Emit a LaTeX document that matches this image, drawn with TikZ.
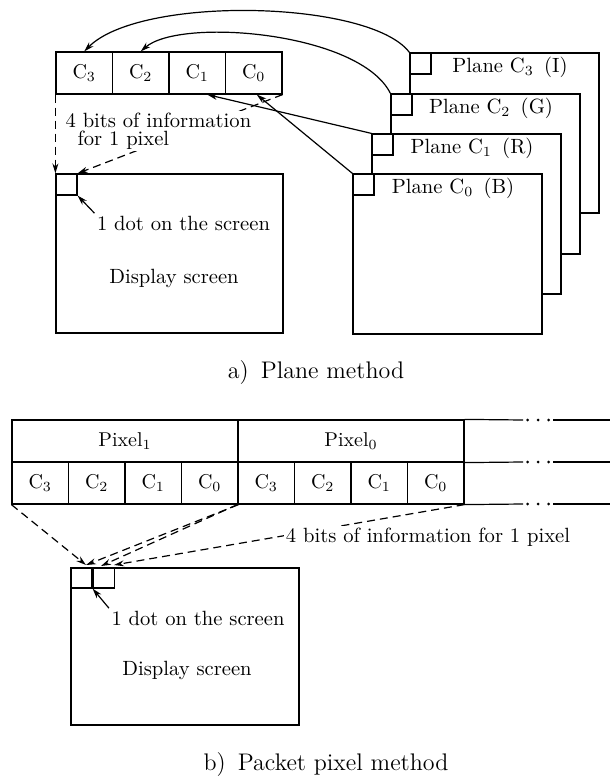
\documentclass[tikz,border=0pt]{standalone}
\usetikzlibrary{arrows.meta}
\begin{document}
\begin{tikzpicture}[x=0.5pt,y=-0.5pt,
  line width=0.6pt,
  txt/.style={font=\fontsize{10.3}{12.4}\selectfont, inner sep=1pt},
  cell/.style={draw, minimum width=28.25pt, minimum height=21pt, inner sep=0pt, font=\fontsize{10}{12}\selectfont},
  hcell/.style={cell, minimum width=113pt},
  sq/.style={draw, minimum width=10.5pt, minimum height=10.5pt, inner sep=0pt},
  bsq/.style={draw, minimum width=10.5pt, minimum height=10pt, inner sep=0pt},
  plane/.style={draw, fill=white, minimum width=94.5pt, minimum height=80pt, inner sep=0pt},
  screen/.style={draw, inner sep=0pt},
  arr/.style={-{Stealth[length=5pt,width=3pt]}},
  dsh/.style={dash pattern=on 4pt off 2.5pt},
  captxt/.style={font=\fontsize{12}{14}\selectfont}
]
\useasboundingbox (0,0) rectangle (610,779);

% ---------------- a) Plane method ----------------
% register
\node[cell] (r3) at (84.25,73) {C$_3$};
\node[cell] (r2) at (140.75,73) {C$_2$};
\node[cell] (r1) at (197.25,73) {C$_1$};
\node[cell] (r0) at (253.75,73) {C$_0$};

% planes (back to front)
\node[plane] (pl3) at (504.5,133) {};
\node[sq, anchor=north west] (pd3) at (pl3.north west) {};
\node[txt] (lb3) at (510,67) {Plane C$_3$\enspace(I)};
\node[plane] (pl2) at (485.5,174) {};
\node[sq, anchor=north west] (pd2) at (pl2.north west) {};
\node[txt] (lb2) at (491,108) {Plane C$_2$\enspace(G)};
\node[plane] (pl1) at (466.5,214) {};
\node[sq, anchor=north west] (pd1) at (pl1.north west) {};
\node[txt] (lb1) at (472,148) {Plane C$_1$\enspace(R)};
\node[plane] (pl0) at (447.5,254) {};
\node[sq, anchor=north west] (pd0) at (pl0.north west) {};
\node[txt] (lb0) at (453,188) {Plane C$_0$\enspace(B)};

% plane -> register arrows
\draw[arr] (pl3.north west) .. controls (370,0) and (140,-5) .. (r3.north);
\draw[arr] (pl2.north west) .. controls (360,32) and (180,17) .. (r2.north);
\draw[arr] (pl1.north west) -- ([xshift=5pt]r1.south);
\draw[arr] (pl0.north west) -- ([xshift=1.5pt]r0.south);

% display screen a
\node[screen, minimum width=113.5pt, minimum height=79.5pt] (scrA) at (169.5,253.5) {};
\node[sq, anchor=north west] (dotA) at (scrA.north west) {};
\node[txt] (dotlblA) at (183.5,223) {1 dot on the screen};
\draw[arr] (dotlblA.north west) -- (dotA.south east);
\node[txt] (dispA) at (174,278) {Display screen};

% dashed info arrows a
\draw[arr,dsh] (r3.south west) -- (dotA.north west);
\draw[arr,dsh] (r0.south east) -- (dotA.north east);
\node[txt, fill=white, anchor=west, align=left, font=\fontsize{10.3}{9.2}\selectfont] (infoA) at (63,131)
  {4 bits of information\\\hspace{6pt}for 1 pixel};

\node[captxt] (capA) at (316,373) {a)\enspace Plane method};

% ---------------- b) Packet pixel method ----------------
\node[hcell] (pix1) at (125,441) {Pixel$_1$};
\node[hcell] (pix0) at (351,441) {Pixel$_0$};
\node[cell] (p1c3) at (40.25,483) {C$_3$};
\node[cell] (p1c2) at (96.75,483) {C$_2$};
\node[cell] (p1c1) at (153.25,483) {C$_1$};
\node[cell] (p1c0) at (209.75,483) {C$_0$};
\node[cell] (p0c3) at (266.25,483) {C$_3$};
\node[cell] (p0c2) at (322.75,483) {C$_2$};
\node[cell] (p0c1) at (379.25,483) {C$_1$};
\node[cell] (p0c0) at (435.75,483) {C$_0$};

% continuation lines
\coordinate (e1a) at (523,420); \coordinate (e1b) at (553,420); \coordinate (e1c) at (610,420);
\coordinate (e2a) at (523,462); \coordinate (e2b) at (553,462); \coordinate (e2c) at (610,462);
\coordinate (e3a) at (523,504); \coordinate (e3b) at (553,504); \coordinate (e3c) at (610,504);
\draw (pix0.north east) -- (e1a); \draw (e1b) -- (e1c);
\draw (pix0.south east) -- (e2a); \draw (e2b) -- (e2c);
\draw (p0c0.south east) -- (e3a); \draw (e3b) -- (e3c);
\foreach \yy in {420,462,504}{
  \foreach \xx in {527.5,538,548.5}{
    \fill (\xx,\yy) circle (0.75pt);
  }
}

% display screen b
\node[screen, minimum width=114pt, minimum height=78.5pt] (scrB) at (185,646.5) {};
\node[bsq, anchor=north west] (dotB1) at (scrB.north west) {};
\node[bsq, anchor=north west] (dotB2) at (dotB1.north east) {};
\node[txt] (dotlblB) at (198,618) {1 dot on the screen};
\draw[arr] (dotlblB.north west) -- (dotB1.south east);
\node[txt] (dispB) at (187,670) {Display screen};

% dashed info arrows b
\coordinate (tA) at (86,565);
\coordinate (tB) at (101,566);
\coordinate (tC) at (114,565);
\draw[arr,dsh] (p1c3.south west) -- (tA);
\draw[arr,dsh] (p1c0.south east) -- (tA);
\draw[arr,dsh] (p0c3.south west) -- (tB);
\draw[arr,dsh] (p0c0.south east) -- (tC);
\node[txt, fill=white] (infoB) at (428,537) {4 bits of information for 1 pixel};

\node[captxt] (capB) at (326,765) {b)\enspace Packet pixel method};
\end{tikzpicture}
\end{document}
